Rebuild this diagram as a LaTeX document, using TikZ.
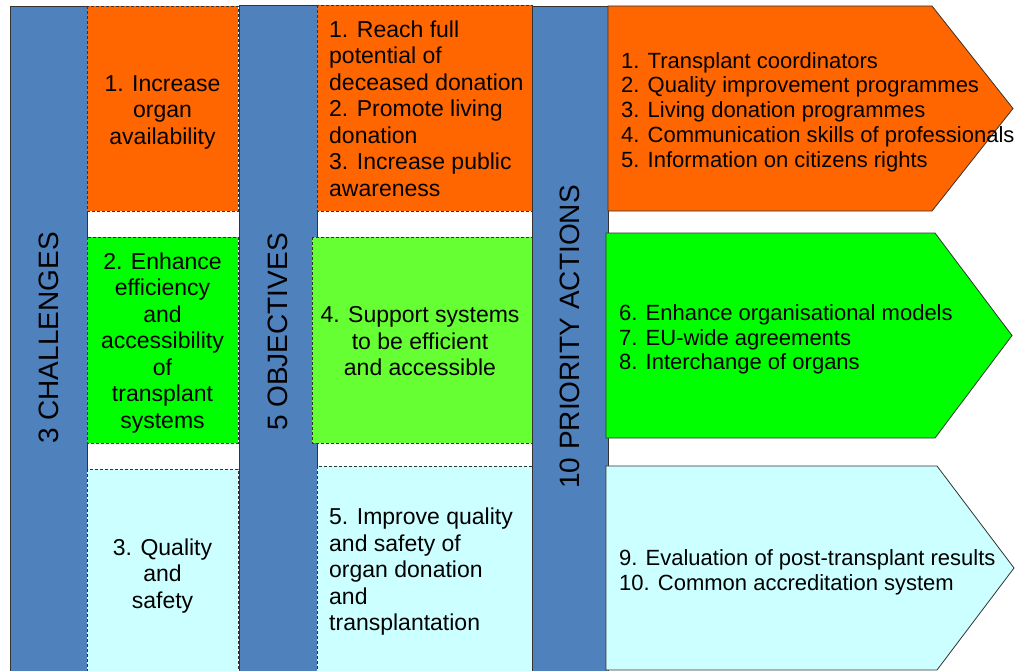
\documentclass[tikz,border=0pt]{standalone}
\usepackage{fontspec}
\setmainfont{Liberation Sans}
\newlength{\du}
\setlength{\du}{1pt}
\definecolor{barblue}{rgb}{0.310000, 0.506000, 0.741000}
\definecolor{orangefill}{rgb}{1.000000, 0.400000, 0.000000}
\definecolor{greenfill}{rgb}{0.000000, 1.000000, 0.000000}
\definecolor{lightgreenfill}{rgb}{0.400000, 1.000000, 0.200000}
\definecolor{cyanfill}{rgb}{0.800000, 1.000000, 1.000000}
\definecolor{edgegray}{rgb}{0.200000, 0.200000, 0.200000}
\tikzset{
  barshape/.style={fill=barblue, draw=edgegray, line width=0.8\du},
  dashshape/.style={draw=edgegray, line width=0.8\du, dash pattern=on 3\du off 2\du},
  arrowshape/.style={draw=edgegray, line width=0.8\du},
  bartext/.style={rotate=90, inner sep=0pt, font=\fontsize{28}{32}\selectfont},
  midtext/.style={align=center, inner sep=0pt, font=\fontsize{23}{26.5}\selectfont},
  lefttext/.style={anchor=west, align=left, inner sep=0pt, font=\fontsize{23}{26.5}\selectfont},
  listtext/.style={anchor=west, align=left, inner sep=0pt, font=\fontsize{22}{24.7}\selectfont},
}

\begin{document}
\begin{tikzpicture}
\pgftransformxscale{1.000000}
\pgftransformyscale{-1.000000}
\useasboundingbox (0\du,0\du) rectangle (1016\du,671\du);
\clip (0\du,0\du) rectangle (1016\du,671\du);
\fill[white] (0\du,0\du) rectangle (1016\du,671\du);
% blue bars
\filldraw[barshape] (10\du,6\du) rectangle (87\du,675\du);
\filldraw[barshape] (239\du,5\du) rectangle (317\du,675\du);
\filldraw[barshape] (532\du,6\du) rectangle (608\du,675\du);
% challenges
\filldraw[dashshape, fill=orangefill] (87\du,6\du) rectangle (238\du,211\du);
\filldraw[dashshape, fill=greenfill] (87\du,237\du) rectangle (238\du,443\du);
\filldraw[dashshape, fill=cyanfill] (87\du,469\du) rectangle (238\du,671\du);
% objectives
\filldraw[dashshape, fill=orangefill] (317\du,5\du) rectangle (532\du,211\du);
\filldraw[dashshape, fill=lightgreenfill] (312\du,237\du) rectangle (532\du,443\du);
\filldraw[dashshape, fill=cyanfill] (317\du,466\du) rectangle (532\du,671\du);
% priority actions
\filldraw[arrowshape, fill=orangefill] (608\du,6\du)--(932\du,6\du)--(1013\du,108.5\du)--(932\du,211\du)--(608\du,211\du)--cycle;
\filldraw[arrowshape, fill=greenfill] (606\du,233\du)--(935\du,233\du)--(1012\du,335.5\du)--(935\du,438\du)--(606\du,438\du)--cycle;
\filldraw[arrowshape, fill=cyanfill] (606\du,466\du)--(937\du,466\du)--(1014\du,568\du)--(937\du,670\du)--(606\du,670\du)--cycle;
% setfont left to latex
\node[bartext] (challenges) at (48.5\du,338\du) {3 CHALLENGES};
\node[bartext] (objectives) at (278\du,332\du) {5 OBJECTIVES};
\node[bartext] (actions) at (570\du,337\du) {10 PRIORITY ACTIONS};
\node[midtext] (chalone) at (162.5\du,112\du) {1. Increase\\organ\\availability};
\node[midtext] (chaltwo) at (162.5\du,343\du) {2. Enhance\\efficiency\\and\\accessibility\\of\\transplant\\systems};
\node[midtext] (chalthree) at (162.5\du,576\du) {3. Quality\\and\\safety};
\node[lefttext] (objone) at (329\du,108.5\du) {1. Reach full\\potential of\\deceased donation\\2. Promote living\\donation\\3. Increase public\\awareness};
\node[midtext] (objtwo) at (420\du,341.5\du) {4. Support systems\\to be efficient\\and accessible};
\node[lefttext] (objthree) at (329\du,572\du) {5. Improve quality\\and safety of\\organ donation\\and\\transplantation};
\node[listtext] (actone) at (621\du,112\du) {1. Transplant coordinators\\2. Quality improvement programmes\\3. Living donation programmes\\4. Communication skills of professionals\\5. Information on citizens rights};
\node[listtext] (acttwo) at (619\du,339.5\du) {6. Enhance organisational models\\7. EU-wide agreements\\8. Interchange of organs};
\node[listtext] (actthree) at (619\du,572\du) {9. Evaluation of post-transplant results\\10. Common accreditation system};
\end{tikzpicture}
\end{document}
